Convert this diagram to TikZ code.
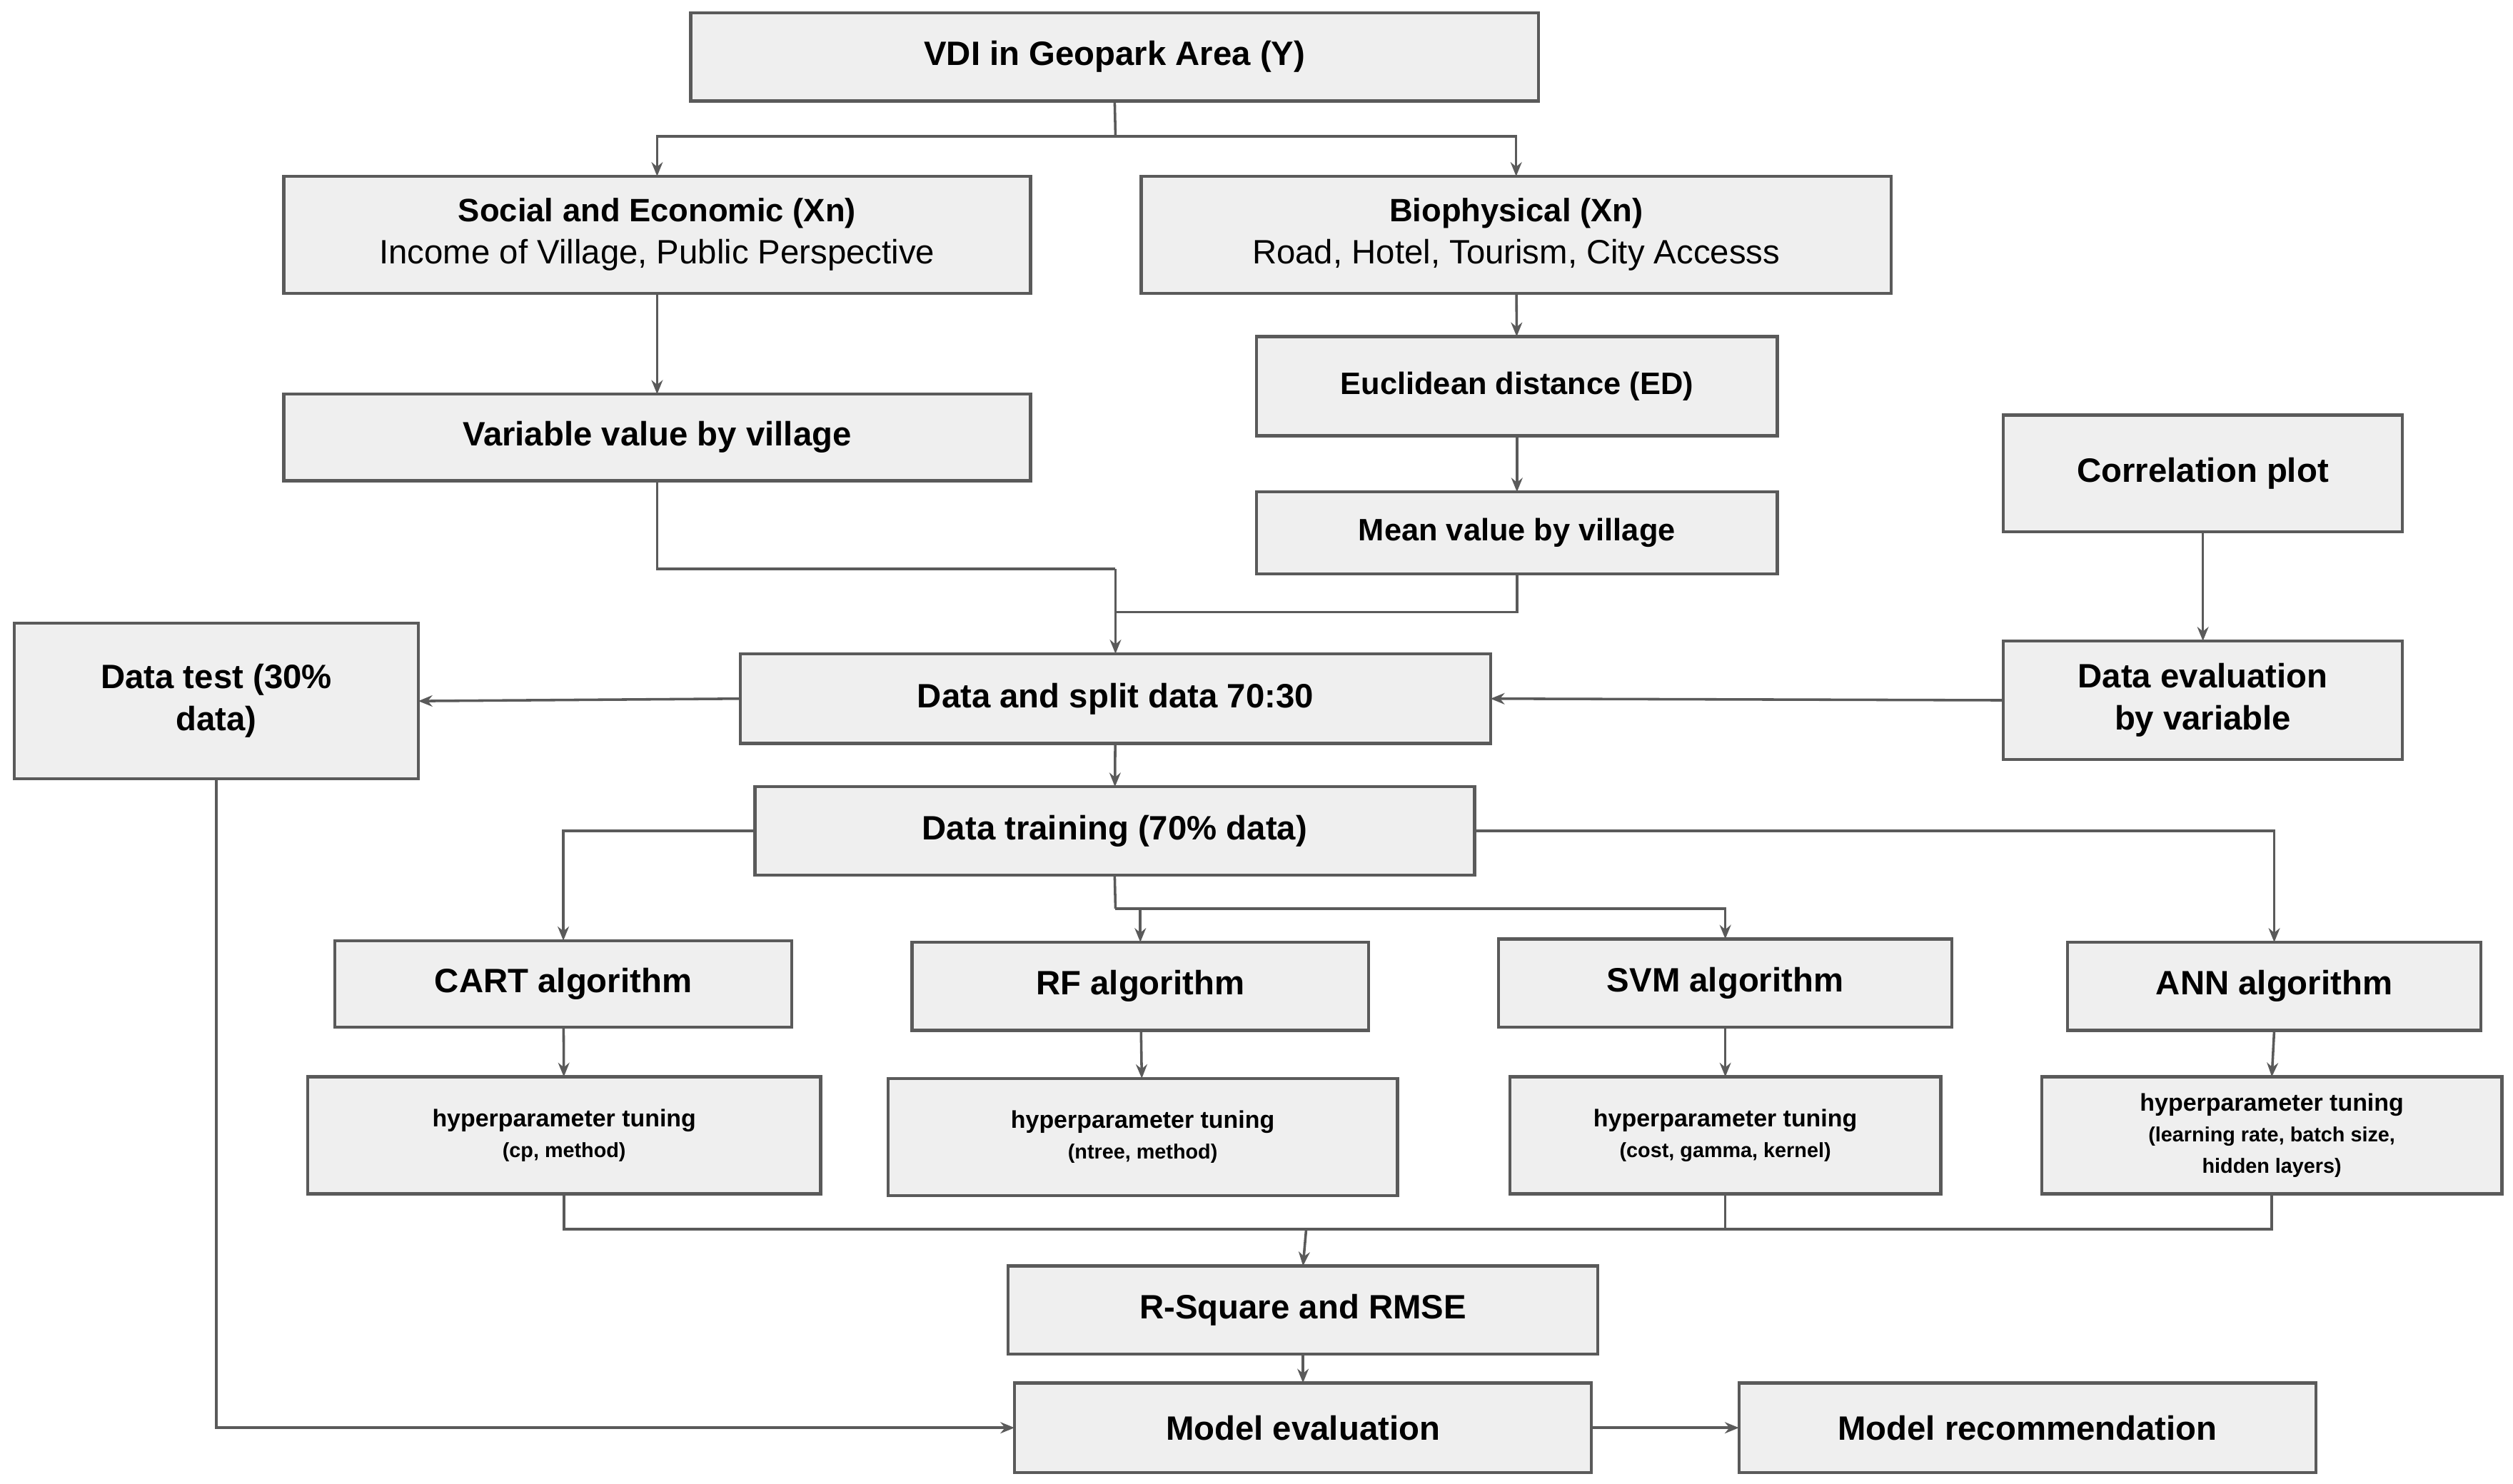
\documentclass[tikz,border=0pt]{standalone}
\usepackage{fontspec}
\setmainfont{Liberation Sans}
\usetikzlibrary{arrows.meta}
\definecolor{bd}{HTML}{5A5A5A}
\definecolor{bf}{HTML}{EFEFEF}
\tikzset{
 box/.style={draw=bd,fill=bf,line width=1.1pt,inner sep=0pt,outer sep=0pt,align=center,font=\bfseries\fontsize{12}{15}\selectfont},
 sub/.style={font=\fontsize{11}{13.5}\selectfont},
 hyp/.style={box,font=\bfseries\fontsize{8.6}{11}\selectfont},
 ln/.style={draw=bd,line width=0.9pt},
 ar/.style={ln,-{Stealth[length=5pt,width=4pt]}}
}
\newcommand\bx[7][box]{\node[#1,minimum width={(#5-#3)*0.02cm},minimum height={(#6-#4)*0.02cm}] (#2) at ({(#3+#5)/2},{(#4+#6)/2}) {#7};}
\begin{document}
\begin{tikzpicture}[x=0.02cm,y=-0.02cm]
\useasboundingbox[fill=white] (0,0) rectangle (1568,926);
\bx{vdi}{431}{8}{960}{63}{VDI in Geopark Area (Y)}
\bx{soc}{177}{110}{643}{183}{\fontsize{11.5}{14.5}\selectfont Social and Economic (Xn)\\{\mdseries Income of Village, Public Perspective}}
\bx{bio}{712}{110}{1180}{183}{\fontsize{11.5}{14.5}\selectfont Biophysical (Xn)\\{\mdseries Road, Hotel, Tourism, City Accesss}}
\bx{var}{177}{246}{643}{300}{Variable value by village}
\bx{euc}{784}{210}{1109}{272}{\fontsize{11}{14}\selectfont Euclidean distance (ED)}
\bx{mean}{784}{307}{1109}{358}{\fontsize{11}{14}\selectfont Mean value by village}
\bx{cor}{1250}{259}{1499}{332}{Correlation plot}
\bx{test}{9}{389}{261}{486}{Data test (30\%\\data)}
\bx{split}{462}{408}{930}{464}{Data and split data 70:30}
\bx{eval}{1250}{400}{1499}{474}{Data evaluation\\by variable}
\bx{train}{471}{491}{920}{546}{Data training (70\% data)}
\bx{cart}{209}{587}{494}{641}{CART algorithm}
\bx{rf}{569}{588}{854}{643}{RF algorithm}
\bx{svm}{935}{586}{1218}{641}{SVM algorithm}
\bx{ann}{1290}{588}{1548}{643}{ANN algorithm}
\bx[hyp]{hc}{192}{672}{512}{745}{hyperparameter tuning\\{\fontsize{7.3}{10}\selectfont (cp, method)}}
\bx[hyp]{hr}{554}{673}{872}{746}{hyperparameter tuning\\{\fontsize{7.3}{10}\selectfont (ntree, method)}}
\bx[hyp]{hs}{942}{672}{1211}{745}{hyperparameter tuning\\{\fontsize{7.3}{10}\selectfont (cost, gamma, kernel)}}
\bx[hyp]{ha}{1274}{672}{1561}{745}{hyperparameter tuning\\{\fontsize{7.3}{9.5}\selectfont (learning rate, batch size,}\\{\fontsize{7.3}{9.5}\selectfont hidden layers)}}
\bx{rsq}{629}{790}{997}{845}{R-Square and RMSE}
\bx{meval}{633}{863}{993}{919}{Model evaluation}
\bx{mrec}{1085}{863}{1445}{919}{Model recommendation}
% connectors
\coordinate (j1) at (696,85);
\draw[ln] (vdi.south) -- (j1);
\draw[ar] (j1) -| (soc.north);
\draw[ar] (j1) -| (bio.north);
\draw[ar] (soc) -- (var);
\draw[ar] (bio) -- (euc);
\draw[ar] (euc) -- (mean);
\coordinate (j2) at (696,355);
\draw[ln] (var.south) |- (j2);
\draw[ln] (mean.south) |- (696,382);
\draw[ar] (j2) -- (split.north);
\draw[ar] (split.west) -- (test.east);
\draw[ar] (eval.west) -- (split.east);
\draw[ar] (cor) -- (eval);
\draw[ar] (split) -- (train);
\draw[ar] (train.west) -| (cart.north);
\draw[ar] (train.east) -| (ann.north);
\coordinate (j3) at (696,567);
\draw[ln] (train.south) -- (j3);
\draw[ar] (j3) -| (rf.north);
\draw[ar] (j3) -| (svm.north);
\draw[ar] (cart) -- (hc);
\draw[ar] (rf) -- (hr);
\draw[ar] (svm) -- (hs);
\draw[ar] (ann.south) -- (ha.north);
\coordinate (j4) at (815,767);
\draw[ln] (hc.south) |- (j4);
\draw[ln] (ha.south) |- (j4);
\draw[ln] (hs.south) -- (hs.south |- j4);
\draw[ar] (j4) -- (rsq.north);
\draw[ar] (rsq) -- (meval);
\draw[ar] (test.south -| 135,0) |- (meval.west);
\draw[ar] (meval) -- (mrec);
\end{tikzpicture}
\end{document}
